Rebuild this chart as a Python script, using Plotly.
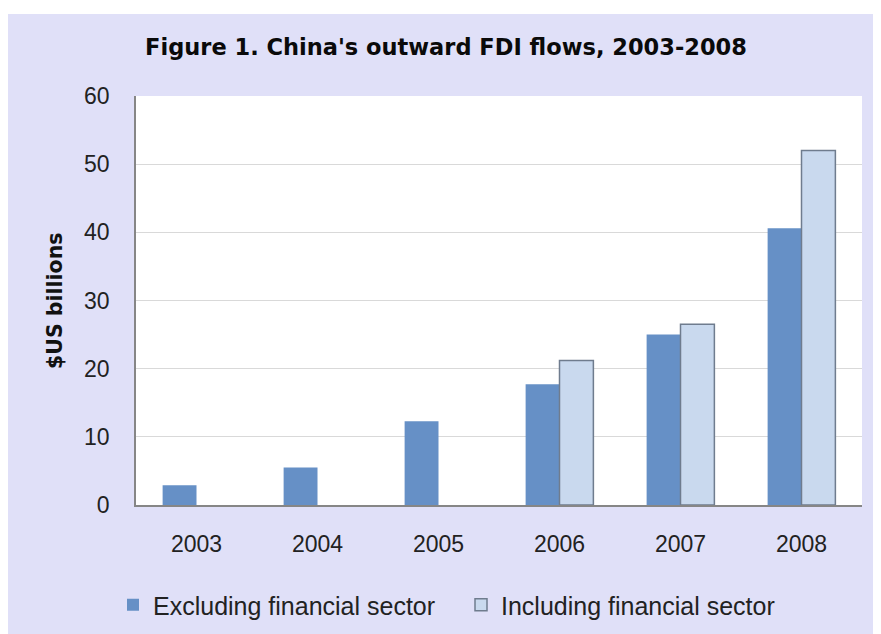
import plotly.graph_objects as go

years = ["2003", "2004", "2005", "2006", "2007", "2008"]
excl_fin = [2.9, 5.5, 12.3, 17.7, 25.0, 40.6]
incl_fin = [None, None, None, 21.2, 26.5, 52.0]
series_names = ["Excluding financial sector", "Including financial sector"]
y_ticks = [0, 10, 20, 30, 40, 50, 60]

# page body has an 8px margin; work in reference pixel coords minus offset
OFF = 8
W, H = 881 - OFF, 634 - OFF
L, R, T, B = 136 - OFF, 19, 96 - OFF, 129
pw, ph = W - L - R, H - T - B

def px_x(x):
    return (x - OFF - L) / pw

def px_y(y):
    return (H - B - (y - OFF)) / ph

fig = go.Figure()
fig.add_trace(go.Bar(
    x=years, y=excl_fin, name=series_names[0],
    marker=dict(color="#6690c6", line=dict(width=0)),
))
fig.add_trace(go.Bar(
    x=years, y=incl_fin, name=series_names[1],
    marker=dict(color="#c9d9ee", line=dict(color="#6f7c8e", width=1.5)),
))

fig.update_layout(
    width=W, height=H,
    margin=dict(l=L, r=R, t=T, b=B, autoexpand=False),
    paper_bgcolor="white",
    plot_bgcolor="white",
    barmode="group",
    bargap=0.44,
    bargroupgap=0,
    title=dict(
        text="Figure 1. China's outward FDI flows, 2003-2008",
        font=dict(family="DejaVu Sans", size=22.5, color="#0a0a0a", weight="bold"),
        x=px_x(446), xref="paper", xanchor="center",
        y=1 - (47 - OFF) / H, yref="container", yanchor="middle",
    ),
    xaxis=dict(
        showline=True, linecolor="#868686", linewidth=1.5,
        ticks="", showgrid=False,
        tickfont=dict(family="Liberation Sans, Arial", size=23, color="#222222"),
        ticklabelstandoff=18,
    ),
    yaxis=dict(
        range=[0, 60], tickvals=y_ticks,
        showline=True, linecolor="#868686", linewidth=1.5,
        ticks="", showgrid=True, gridcolor="#d9d9d9", gridwidth=1,
        zeroline=False,
        tickfont=dict(family="Liberation Sans, Arial", size=23, color="#222222"),
        ticklabelstandoff=20,
    ),
    legend=dict(
        orientation="h",
        x=px_x(113), xanchor="left",
        y=px_y(605), yanchor="middle",
        font=dict(family="Liberation Sans, Arial", size=25, color="#222222"),
        bgcolor="rgba(0,0,0,0)",
        traceorder="normal",
        entrywidth=303, entrywidthmode="pixels",
    ),
    showlegend=True,
    shapes=[
        dict(type="rect", xref="paper", yref="paper", layer="below",
             x0=px_x(6), x1=px_x(890), y0=px_y(645), y1=px_y(14),
             fillcolor="#e0e0f8", line=dict(width=0)),
        dict(type="rect", xref="paper", yref="paper", layer="below",
             x0=0, x1=1, y0=0, y1=1,
             fillcolor="white", line=dict(width=0)),
    ],
    annotations=[
        dict(text="$US billions", xref="paper", yref="paper",
             x=px_x(55), y=px_y(301), textangle=-90, showarrow=False,
             xanchor="center", yanchor="middle",
             font=dict(family="DejaVu Sans", size=20.5, color="#111111", weight="bold")),
    ],
)

fig.write_html("out.html")
